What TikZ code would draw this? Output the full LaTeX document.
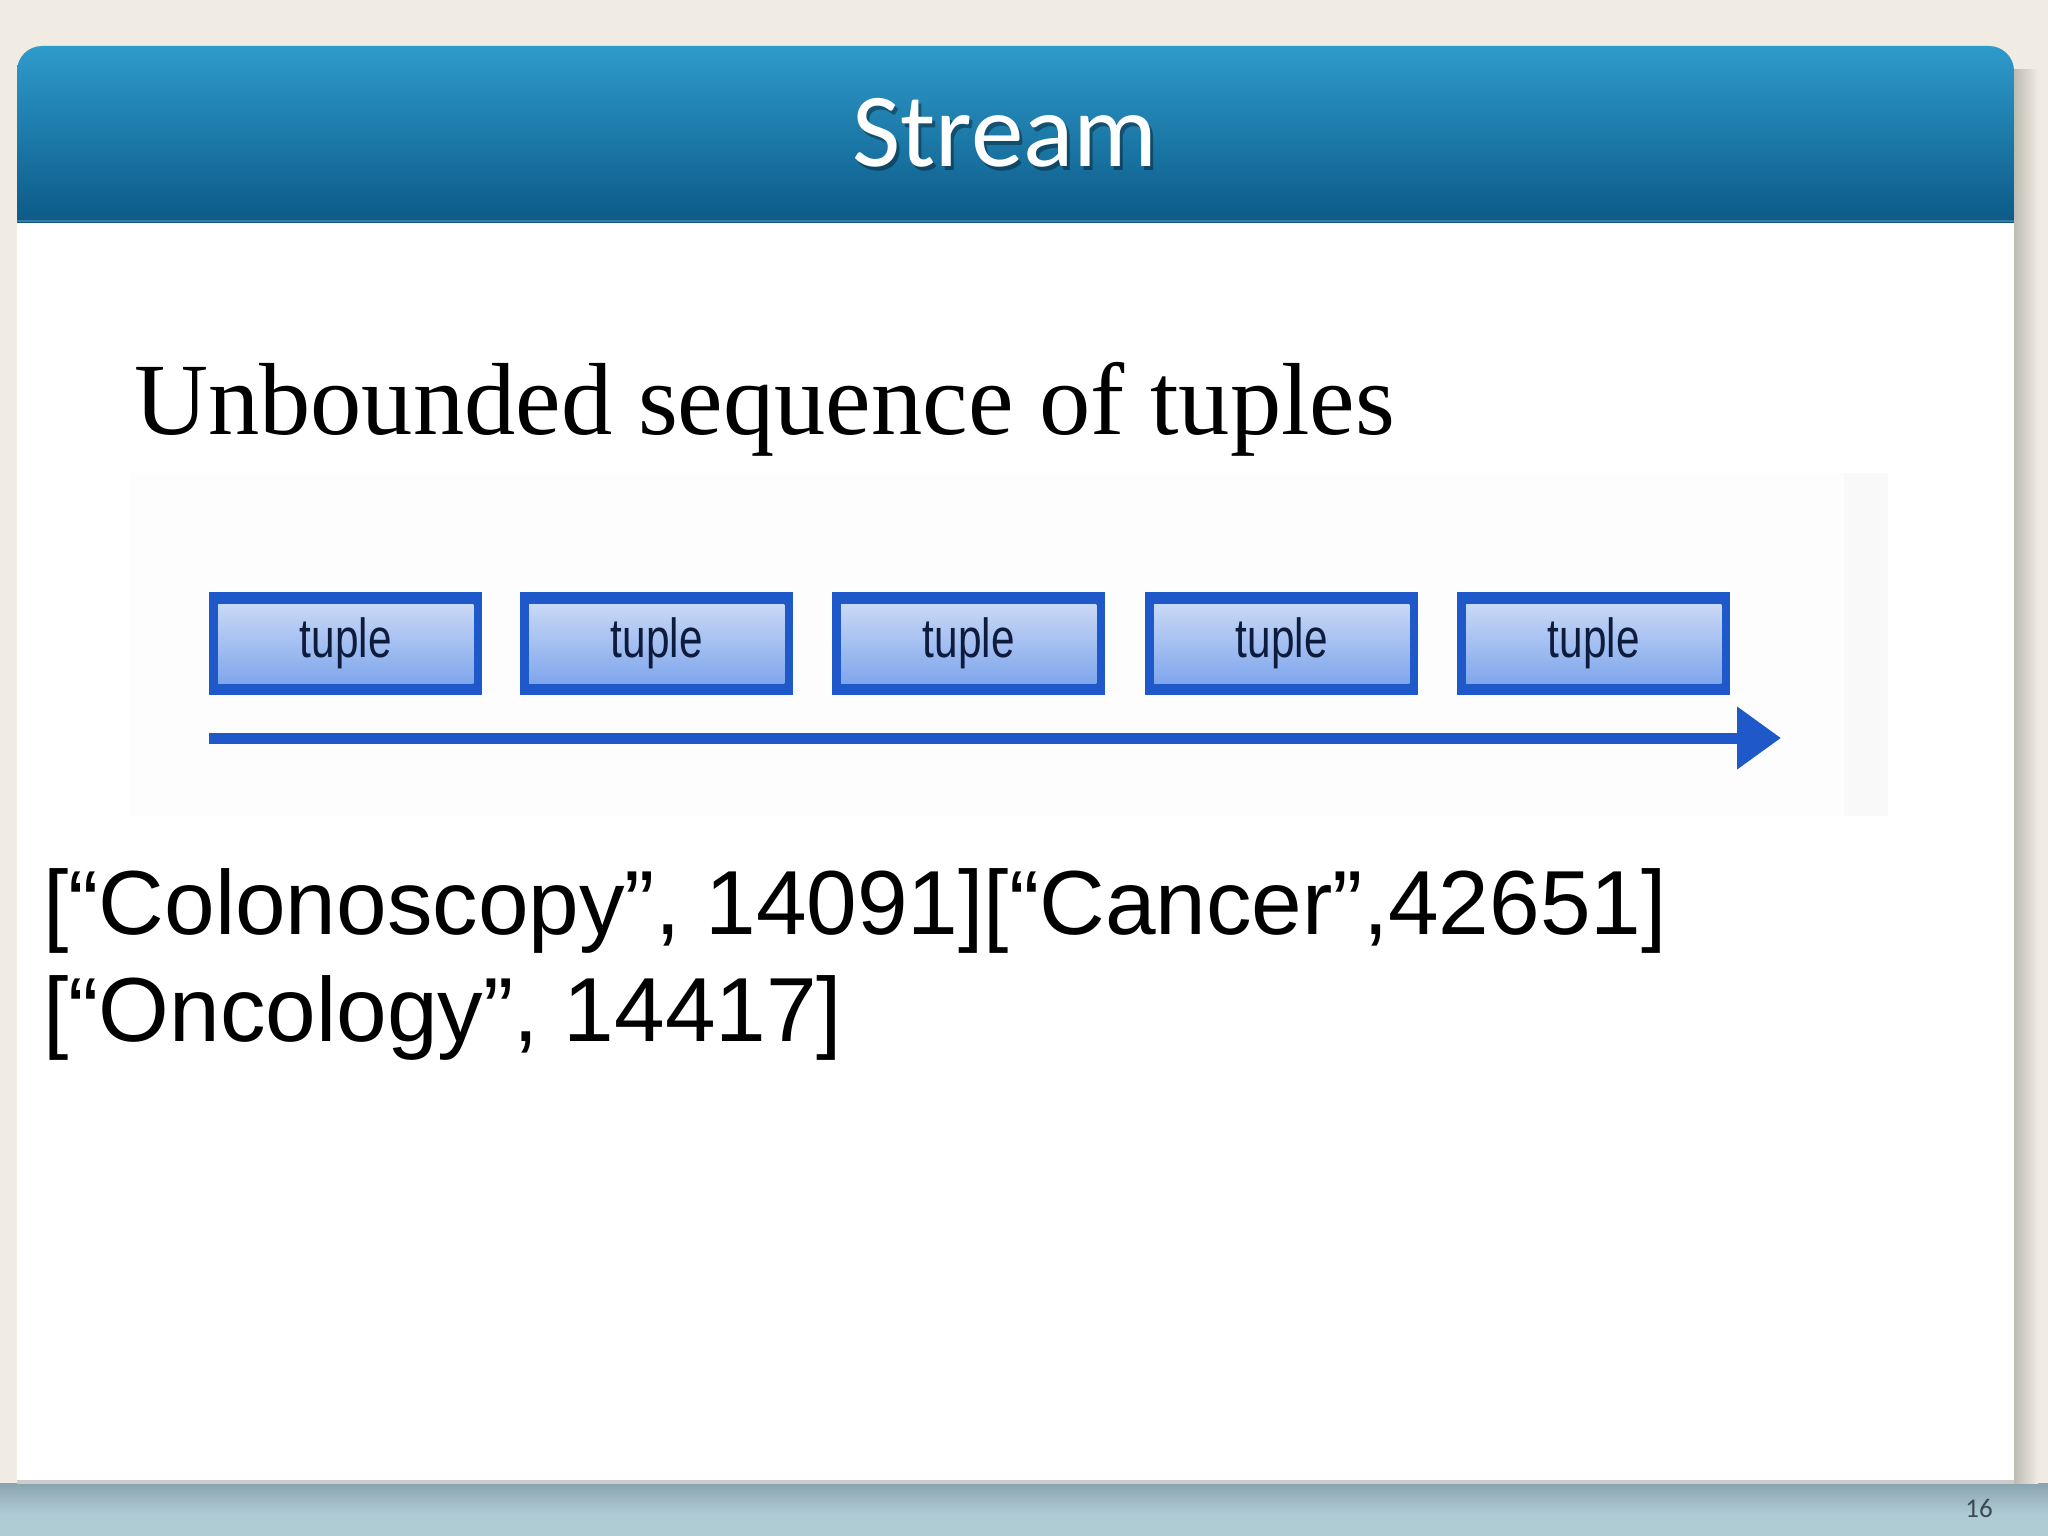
\documentclass[tikz,border=0pt]{standalone}
\usepackage{fontspec}
\setmainfont{Liberation Serif}
\newfontfamily\arialf{Liberation Sans}
\newfontfamily\calib{Carlito}
\usetikzlibrary{arrows.meta}
\definecolor{bgbeige}{HTML}{F0EBE3}
\definecolor{bandtop}{HTML}{8AA4AF}
\definecolor{bandbot}{HTML}{AFCCD5}
\definecolor{shd}{HTML}{BDBCB2}
\definecolor{titletop}{HTML}{2E9BCB}
\definecolor{titlebot}{HTML}{0C5A88}
\definecolor{tupblue}{HTML}{1F58C8}
\definecolor{tuptop}{HTML}{C9D8F6}
\definecolor{tupbot}{HTML}{7FA6EC}
\definecolor{tuptext}{HTML}{0D1B3D}
\definecolor{pagenum}{HTML}{3A4A55}
\tikzset{
  tuplebox/.style={fill=tupblue, minimum width=273pt, minimum height=103pt, inner sep=0pt},
  tuplelabel/.style={font=\arialf\fontsize{55}{55}\selectfont, text=tuptext, xscale=0.77},
  streamarrow/.style={draw=tupblue, line width=11pt, -{Triangle[length=44pt,width=60pt]}},
  datatext/.style={font=\arialf\fontsize{91}{91}\selectfont, anchor=base west, inner sep=0pt},
}
\begin{document}
\begin{tikzpicture}[x=1pt,y=-1pt]
\useasboundingbox (0,0) rectangle (2048,1536);
\fill[bgbeige] (0,0) rectangle (2048,1536);
% bottom band
\shade[top color=bandtop,bottom color=bandbot] (0,1483) rectangle (2048,1515);
\fill[bandbot] (0,1515) rectangle (2048,1536);
\fill[black!20] (17,1479) rectangle (2014,1484);
% right shadow
\shade[left color=shd,right color=bgbeige] (2014,70) rectangle (2038,1483);
% white slide
\fill[white] (17,200) rectangle (2014,1480);
% title bar
\begin{scope}
\clip[rounded corners=25pt] (17,46) rectangle (2014,320);
\shade[top color=titletop,bottom color=titlebot] (17,46) rectangle (2014,222);
\end{scope}
\draw[titlebot!80!white, line width=2pt] (17,221) -- (2014,221);
\node[font=\calib\fontsize{105}{105}\selectfont, text=black, opacity=0.35, anchor=base] (titleshadow) at (1008,171) {Stream};
\node[font=\calib\fontsize{105}{105}\selectfont, text=white, anchor=base] (title) at (1005,167) {Stream};
% heading
\node[font=\fontsize{102.5}{102.5}\selectfont, anchor=base west, inner sep=0pt] (heading) at (134,434) {Unbounded sequence of tuples};
% picture area (very faint)
\fill[black!0.8] (130,473) rectangle (1844,816);
\fill[black!2.5] (1844,473) rectangle (1888,816);
% tuple boxes
\foreach \i/\x in {1/209,2/520,3/832,4/1145,5/1457}{
  \node[tuplebox, anchor=north west] (box\i) at (\x,592) {};
  \shade[top color=tuptop,bottom color=tupbot] ([xshift=9pt,yshift=-12pt]box\i.north west) rectangle ([xshift=-9pt,yshift=12pt]box\i.south east);
  \node[tuplelabel] (lab\i) at (box\i.center) {tuple};
}
% arrow
\coordinate (arrS) at (209,738);
\coordinate (arrE) at (1781,738);
\draw[streamarrow] (arrS) -- (arrE);
% data lines
\node[datatext] (line1) at (43,934) {[“Colonoscopy”, 14091][“Cancer”,42651]};
\node[datatext] (line2) at (43,1041) {[“Oncology”, 14417]};
% page number
\node[font=\calib\fontsize{27}{27}\selectfont, text=pagenum] (page) at (1979,1508) {16};
\end{tikzpicture}
\end{document}
